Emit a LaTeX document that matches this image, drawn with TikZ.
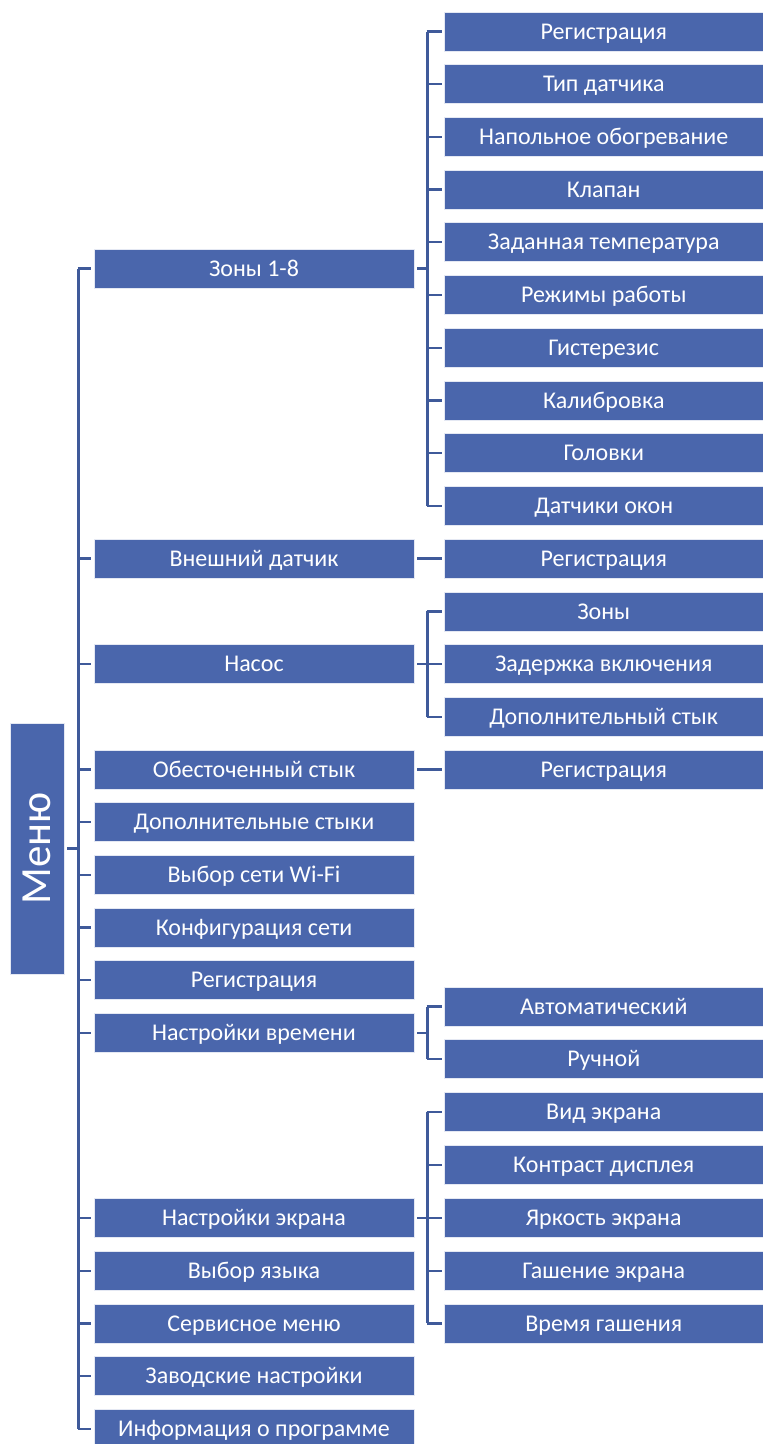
\documentclass[tikz,border=0pt]{standalone}
\usepackage{fontspec}
\setmainfont{Carlito}
\usepackage{graphicx}
\definecolor{boxblue}{HTML}{4A66AC}
\definecolor{lineblue}{HTML}{3F5A9A}
\begin{document}
\begin{tikzpicture}[x=1pt,y=1pt,
  box/.style={draw=white!85!boxblue, line width=0.8pt, fill=boxblue, text=white, inner sep=0pt,
    minimum height=39pt, text height=15.3pt, text depth=0pt, font=\fontsize{24}{27}\selectfont},
  lone/.style={box, minimum width=320pt},
  ltwo/.style={box, minimum width=318.5pt},
  menubox/.style={box, minimum width=54pt, minimum height=251pt, text height=, text depth=, font=\fontsize{43}{48}\selectfont},
  conn/.style={draw=lineblue, line width=2.3pt}]
\useasboundingbox (0,0) rectangle (763,-1444);
% menu
\node[menubox] (menu) at (37,-848.5) {\rotatebox{90}{Меню}};
% level 1
\foreach \n/\y/\t in {
  a1/268.5/Зоны 1-8,
  a2/558.5/Внешний датчик,
  a3/664/Насос,
  a4/769.5/Обесточенный стык,
  a5/822.3/Дополнительные стыки,
  a6/875/Выбор сети Wi-Fi,
  a7/927.6/Конфигурация сети,
  a8/980.3/Регистрация,
  a9/1033.3/Настройки времени,
  a10/1218.3/Настройки экрана,
  a11/1271/Выбор языка,
  a12/1323.6/Сервисное меню,
  a13/1376.3/Заводские настройки,
  a14/1429/Информация о программе}
  {\node[lone] (\n) at (254,-\y) {\t};}
% level 2
\foreach \n/\y/\t in {
  b1/31.5/Регистрация,
  b2/84.2/Тип датчика,
  b3/136.9/Напольное обогревание,
  b4/189.6/Клапан,
  b5/242.3/Заданная температура,
  b6/295/Режимы работы,
  b7/347.7/Гистерезис,
  b8/400.4/Калибровка,
  b9/453.1/Головки,
  b10/505.8/Датчики окон,
  c1/558.5/Регистрация,
  d1/611.4/Зоны,
  d2/664.1/Задержка включения,
  d3/716.8/Дополнительный стык,
  e1/769.5/Регистрация,
  f1/1006.5/Автоматический,
  f2/1059.3/Ручной,
  g1/1112.3/Вид экрана,
  g2/1165.1/Контраст дисплея,
  g3/1217.9/Яркость экрана,
  g4/1270.7/Гашение экрана,
  g5/1323.4/Время гашения}
  {\node[ltwo] (\n) at (603.75,-\y) {\t};}
% trunk
\draw[conn] ([xshift=3pt]menu.east) -- ([xshift=-15pt]menu.east -| a1.west);
\draw[conn] ([xshift=-15pt]a1.west) -- ([xshift=-15pt]a14.west);
\foreach \n in {a1,a2,a3,a4,a5,a6,a7,a8,a9,a10,a11,a12,a13,a14}
  \draw[conn] ([xshift=-16pt]\n.west) -- ([xshift=-3pt]\n.west);
% groups
\draw[conn] ([xshift=3pt]a1.east) -- ([xshift=14pt]a1.east);
\draw[conn] ([xshift=-16.5pt]b1.west) -- ([xshift=-16.5pt]b10.west);
\foreach \n in {b1,b2,b3,b4,b5,b6,b7,b8,b9,b10}
  \draw[conn] ([xshift=-17.5pt]\n.west) -- ([xshift=-2.5pt]\n.west);
\draw[conn] ([xshift=3pt]a2.east) -- ([xshift=-2.5pt]c1.west);
\draw[conn] ([xshift=3pt]a3.east) -- ([xshift=14pt]a3.east);
\draw[conn] ([xshift=-16.5pt]d1.west) -- ([xshift=-16.5pt]d3.west);
\foreach \n in {d1,d2,d3}
  \draw[conn] ([xshift=-17.5pt]\n.west) -- ([xshift=-2.5pt]\n.west);
\draw[conn] ([xshift=3pt]a4.east) -- ([xshift=-2.5pt]e1.west);
\draw[conn] ([xshift=3pt]a9.east) -- ([xshift=14pt]a9.east);
\draw[conn] ([xshift=-16.5pt]f1.west) -- ([xshift=-16.5pt]f2.west);
\foreach \n in {f1,f2}
  \draw[conn] ([xshift=-17.5pt]\n.west) -- ([xshift=-2.5pt]\n.west);
\draw[conn] ([xshift=3pt]a10.east) -- ([xshift=14pt]a10.east);
\draw[conn] ([xshift=-16.5pt]g1.west) -- ([xshift=-16.5pt]g5.west);
\foreach \n in {g1,g2,g3,g4,g5}
  \draw[conn] ([xshift=-17.5pt]\n.west) -- ([xshift=-2.5pt]\n.west);
\end{tikzpicture}
\end{document}
